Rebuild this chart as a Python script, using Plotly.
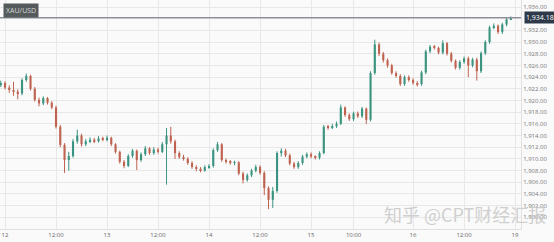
import plotly.graph_objects as go

# hourly index (0 = Jan 12 00:00, weekend removed)
hours = list(range(-1, 120))

opens = [1922.6, 1923.0, 1922.2, 1921.8, 1921.5, 1921.2, 1923.5, 1924.2, 1922.0, 1920.1,
         1919.5, 1920.4, 1919.6, 1918.8, 1915.5, 1912.4, 1909.8, 1910.5, 1913.0, 1914.0,
         1912.5, 1913.0, 1913.3, 1913.0, 1913.5, 1913.3, 1913.6, 1912.5, 1911.2, 1909.5,
         1908.8, 1910.5, 1911.4, 1909.8, 1910.8, 1911.8, 1911.0, 1911.6, 1911.2, 1912.5,
         1914.0, 1913.0, 1911.0, 1910.3, 1910.0, 1909.3, 1908.6, 1908.3, 1908.0, 1908.6,
         1908.8, 1911.5, 1912.5, 1909.8, 1909.5, 1909.3, 1909.4, 1907.5, 1906.4, 1907.2,
         1908.0, 1908.6, 1907.6, 1905.0, 1903.0, 1904.5, 1911.0, 1911.4, 1910.6, 1909.2,
         1908.6, 1909.3, 1910.4, 1910.8, 1910.4, 1910.2, 1911.0, 1915.5, 1915.4, 1915.6,
         1916.0, 1918.8, 1917.5, 1916.8, 1917.8, 1917.3, 1918.6, 1916.7, 1924.7, 1929.6,
         1928.0, 1926.9, 1926.0, 1924.7, 1924.2, 1922.8, 1924.0, 1923.5, 1923.0, 1922.8,
         1924.8, 1928.4, 1929.2, 1929.0, 1928.2, 1929.8, 1928.0, 1926.8, 1925.6, 1926.6,
         1927.2, 1926.0, 1927.0, 1925.0, 1928.1, 1930.0, 1932.5, 1932.8, 1931.7, 1933.0,
         1933.9]

closes = [1923.0, 1922.2, 1921.8, 1921.5, 1921.2, 1923.5, 1924.2, 1922.0, 1920.1, 1919.5,
          1920.4, 1919.6, 1918.8, 1915.5, 1912.4, 1909.8, 1910.5, 1913.0, 1914.0, 1912.5,
          1913.0, 1913.3, 1913.0, 1913.5, 1913.3, 1913.6, 1912.5, 1911.2, 1909.5, 1908.8,
          1910.5, 1911.4, 1909.8, 1910.8, 1911.8, 1911.0, 1911.6, 1911.2, 1912.5, 1914.0,
          1913.0, 1911.0, 1910.3, 1910.0, 1909.3, 1908.6, 1908.3, 1908.0, 1908.6, 1908.8,
          1911.5, 1912.5, 1909.8, 1909.5, 1909.3, 1909.4, 1907.5, 1906.4, 1907.2, 1908.0,
          1908.6, 1907.6, 1905.0, 1903.0, 1904.5, 1911.0, 1911.4, 1910.6, 1909.2, 1908.6,
          1909.3, 1910.4, 1910.8, 1910.4, 1910.2, 1911.0, 1915.5, 1915.4, 1915.6, 1916.0,
          1918.8, 1917.5, 1916.8, 1917.8, 1917.3, 1918.6, 1916.7, 1924.7, 1929.6, 1928.0,
          1926.9, 1926.0, 1924.7, 1924.2, 1922.8, 1924.0, 1923.5, 1923.0, 1922.8, 1924.8,
          1928.4, 1929.2, 1929.0, 1928.2, 1929.8, 1928.0, 1926.8, 1925.6, 1926.6, 1927.2,
          1926.0, 1927.0, 1925.0, 1928.1, 1930.0, 1932.5, 1932.8, 1931.7, 1933.0, 1933.9,
          1934.18]

highs = [1923.4, 1923.3, 1922.6, 1923.2, 1921.9, 1923.8, 1924.6, 1924.4, 1922.3, 1920.5,
         1920.7, 1920.6, 1919.9, 1919.1, 1915.8, 1912.7, 1911.2, 1913.4, 1915.0, 1914.3,
         1913.4, 1913.7, 1913.6, 1913.9, 1913.8, 1914.0, 1913.8, 1912.7, 1911.4, 1909.8,
         1910.8, 1911.7, 1911.6, 1911.1, 1912.2, 1912.0, 1912.0, 1911.9, 1912.9, 1915.3,
         1915.5, 1913.3, 1911.3, 1910.7, 1910.3, 1909.6, 1908.9, 1908.6, 1908.9, 1909.1,
         1911.8, 1912.9, 1912.7, 1910.1, 1909.8, 1909.7, 1909.6, 1907.8, 1907.5, 1908.3,
         1909.0, 1908.9, 1907.9, 1905.3, 1905.2, 1911.3, 1911.8, 1911.7, 1910.9, 1909.5,
         1909.6, 1910.7, 1911.1, 1911.1, 1910.6, 1911.3, 1915.8, 1915.8, 1916.0, 1916.4,
         1919.3, 1919.0, 1917.8, 1918.1, 1918.1, 1918.9, 1918.8, 1925.0, 1930.4, 1929.9,
         1928.3, 1927.2, 1926.3, 1925.0, 1924.5, 1924.3, 1924.3, 1923.8, 1923.3, 1925.1,
         1928.7, 1929.5, 1929.5, 1929.2, 1930.3, 1930.0, 1928.3, 1927.0, 1926.9, 1927.5,
         1927.5, 1927.3, 1927.3, 1928.4, 1930.3, 1932.8, 1933.2, 1933.0, 1933.3, 1934.2,
         1934.4]

lows = [1922.3, 1921.9, 1921.3, 1920.8, 1920.2, 1920.9, 1923.2, 1921.7, 1919.8, 1919.0,
        1919.2, 1919.3, 1918.5, 1915.2, 1912.0, 1907.6, 1908.0, 1910.2, 1912.6, 1912.1,
        1912.2, 1912.7, 1912.7, 1912.8, 1913.0, 1913.0, 1912.2, 1910.9, 1909.2, 1908.4,
        1908.6, 1910.2, 1908.1, 1909.5, 1910.5, 1910.7, 1910.7, 1910.9, 1911.0, 1905.6,
        1912.6, 1910.0, 1910.0, 1909.7, 1909.0, 1908.3, 1907.9, 1907.7, 1907.8, 1908.3,
        1908.5, 1911.2, 1909.5, 1909.2, 1909.0, 1908.9, 1907.2, 1905.8, 1906.1, 1906.9,
        1907.7, 1907.3, 1903.8, 1901.4, 1901.6, 1904.2, 1910.4, 1910.3, 1908.9, 1908.3,
        1908.3, 1909.0, 1910.1, 1910.1, 1909.9, 1909.9, 1910.8, 1915.0, 1915.1, 1915.3,
        1915.8, 1917.2, 1916.5, 1916.5, 1917.0, 1917.0, 1916.0, 1916.4, 1924.4, 1927.6,
        1926.5, 1925.6, 1924.4, 1923.9, 1922.5, 1922.5, 1923.2, 1922.7, 1922.4, 1922.5,
        1924.5, 1928.1, 1928.7, 1927.9, 1927.9, 1927.7, 1926.5, 1925.3, 1925.3, 1926.3,
        1924.0, 1925.7, 1923.4, 1924.7, 1927.8, 1929.7, 1932.2, 1931.4, 1931.4, 1932.7,
        1933.8]

last_price = 1934.18

tick_hours = [0, 12, 24, 36, 48, 60, 72, 82, 96, 108, 120]
tick_text = ["12", "12:00", "13", "12:00", "14", "12:00", "15", "10:00", "16", "12:00", "19"]

price_ticks = [1900, 1902, 1904, 1906, 1908, 1910, 1912, 1914, 1916, 1918,
               1920, 1922, 1924, 1926, 1928, 1930, 1932, 1936]

UP = "#3b9480"
DOWN = "#bf6350"

fig = go.Figure()

# wicks, one trace per direction
for is_up, col in ((True, UP), (False, DOWN)):
    wx, wy = [], []
    bx, bbase, bh = [], [], []
    for h, o, hi, lo, c in zip(hours, opens, highs, lows, closes):
        if (c >= o) != is_up:
            continue
        wx += [h, h, None]
        wy += [lo, hi, None]
        bx.append(h)
        bbase.append(min(o, c))
        bh.append(max(abs(c - o), 0.12))
    fig.add_trace(go.Scatter(x=wx, y=wy, mode="lines",
                             line=dict(color=col, width=1),
                             hoverinfo="skip", showlegend=False))
    fig.add_trace(go.Bar(x=bx, y=bh, base=bbase, width=0.5,
                         marker=dict(color=col, line=dict(width=0)),
                         showlegend=False))

fig.add_shape(type="line", xref="paper", x0=0, x1=1, yref="y",
              y0=last_price, y1=last_price,
              line=dict(color="#8e8e9c", width=1.5))

fig.add_annotation(xref="paper", yref="y", x=1.005, y=last_price,
                   text=f"{last_price:,.2f}", showarrow=False,
                   xanchor="left", yanchor="middle",
                   bgcolor="#2e3a4a", borderpad=1,
                   font=dict(color="white", size=7, family="Open Sans"))

fig.add_annotation(xref="paper", yref="paper", x=0.006, y=0.985,
                   text="XAU/USD", showarrow=False,
                   xanchor="left", yanchor="top",
                   bgcolor="#555b5d", borderpad=2,
                   font=dict(color="#d8d8d8", size=7, family="Open Sans"))

fig.add_annotation(xref="paper", yref="paper", x=1.052, y=0.0,
                   text="知乎 @CPT财经汇报", showarrow=False,
                   xanchor="right", yanchor="bottom",
                   font=dict(color="rgba(200,200,200,0.85)", size=18,
                             family="Noto Sans CJK SC"))

fig.update_layout(
    width=554, height=242,
    margin=dict(l=0, r=33, t=0, b=13),
    paper_bgcolor="#fafafa",
    plot_bgcolor="#fafafa",
    barmode="overlay",
    font=dict(family="Open Sans", size=6, color="#777777"),
    xaxis=dict(
        range=[-1.18, 121.4],
        tickvals=tick_hours, ticktext=tick_text,
        showgrid=True, gridcolor="#e8e8e8", gridwidth=1,
        zeroline=False, showline=True, linecolor="#e0e0e0",
        tickfont=dict(size=6, color="#666666"),
        ticks="", ticklen=0,
    ),
    yaxis=dict(
        side="right", range=[1898.0, 1937.2],
        tickvals=price_ticks, tickformat=",.2f",
        showgrid=True, gridcolor="#e8e8e8", gridwidth=1,
        zeroline=False, showline=True, linecolor="#e0e0e0",
        tickfont=dict(size=6, color="#777777"),
        ticks="", ticklen=0,
    ),
)

fig.write_html("out.html")
